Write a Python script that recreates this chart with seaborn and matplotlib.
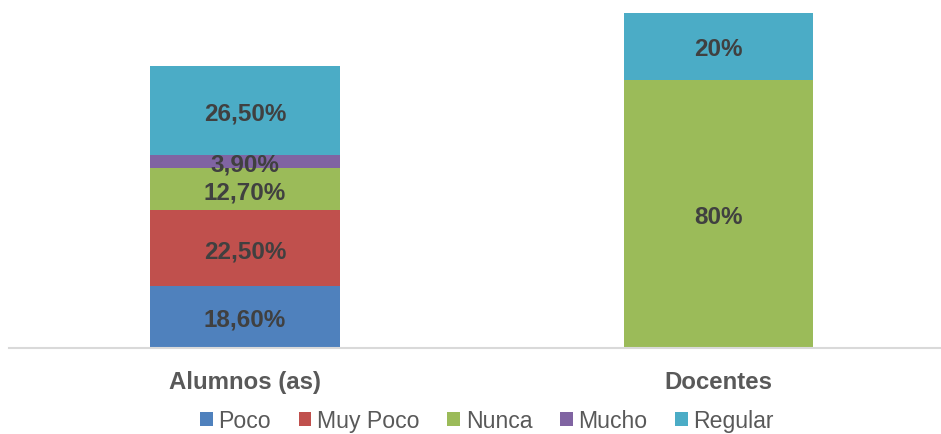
import numpy as np
import matplotlib
matplotlib.use("Agg")
import matplotlib.pyplot as plt
import seaborn as sns
from matplotlib.patches import Patch

# data
grupos = ["Alumnos (as)", "Docentes"]
respuestas = ["Poco", "Muy Poco", "Nunca", "Mucho", "Regular"]
poco = [18.6, 0]
muy_poco = [22.5, 0]
nunca = [12.7, 80]
mucho = [3.9, 0]
regular = [26.5, 20]
etiquetas = {
    "Poco": ["18,60%", ""],
    "Muy Poco": ["22,50%", ""],
    "Nunca": ["12,70%", "80%"],
    "Mucho": ["3,90%", ""],
    "Regular": ["26,50%", "20%"],
}
colores = ["#4F81BD", "#C0504D", "#9BBB59", "#8064A2", "#4BACC6"]

sns.set_style("white")
plt.rcParams["font.family"] = ["Liberation Sans", "DejaVu Sans"]

fig = plt.figure(figsize=(9.41, 4.35), dpi=100)
ax = fig.add_axes([9 / 941, 86 / 435, 931 / 941, 335 / 435])

series = [poco, muy_poco, nunca, mucho, regular]
base = np.zeros(len(grupos))
for nombre, vals, col in zip(respuestas, series, colores):
    vals = np.array(vals, dtype=float)
    sns.barplot(x=grupos, y=vals, bottom=base, color=col, width=0.4,
                ax=ax, errorbar=None, saturation=1, linewidth=0)
    for i, v in enumerate(vals):
        if v > 0:
            ax.text(i, base[i] + v / 2, etiquetas[nombre][i], ha="center",
                    va="center_baseline", fontsize=17.5, fontweight="bold",
                    color="#404040")
    base = base + vals

ax.set_xlim(-0.498, 1.468)
ax.set_ylim(0, 100)
ax.set_yticks([])
ax.set_ylabel("")
for s in ["top", "right", "left"]:
    ax.spines[s].set_visible(False)
ax.spines["bottom"].set_color("#D9D9D9")
ax.spines["bottom"].set_linewidth(1.5)
ax.tick_params(axis="x", length=0, pad=16, labelsize=17.3, labelcolor="#595959")
for t in ax.get_xticklabels():
    t.set_fontweight("bold")

handles = [Patch(facecolor=c, edgecolor="none") for c in colores]
fig.legend(handles, respuestas, loc="center", bbox_to_anchor=(487 / 941, 1 - 422 / 435),
           ncol=5, frameon=False, fontsize=16.6, labelcolor="#595959",
           handlelength=0.55, handleheight=0.55, handletextpad=0.25, columnspacing=1.2)

fig.savefig("out.png", dpi=100)
